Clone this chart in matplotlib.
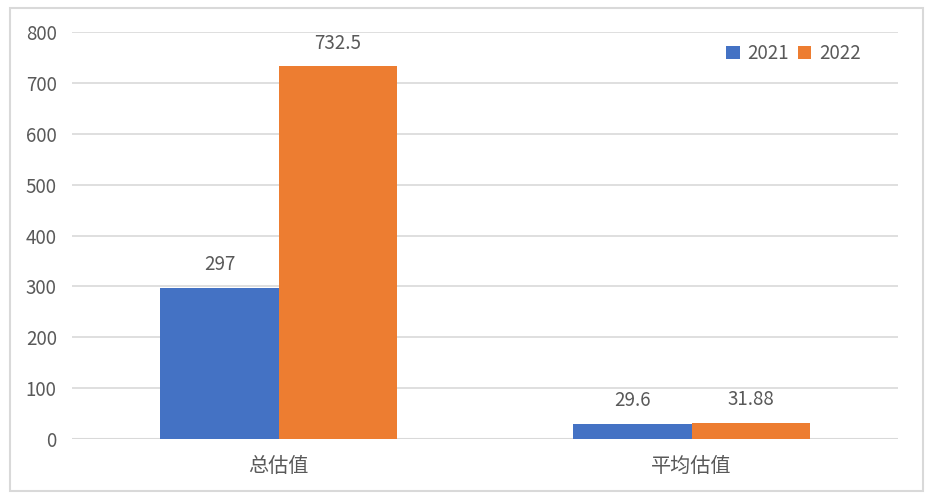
import numpy as np
import matplotlib.pyplot as plt
from matplotlib.patches import Rectangle

plt.rcParams['font.family'] = ['Noto Sans CJK SC', 'DejaVu Sans']

categories = ['总估值', '平均估值']
series_names = ['2021', '2022']
values_2021 = [297, 29.6]
values_2022 = [732.5, 31.88]
labels_2021 = ['297', '29.6']
labels_2022 = ['732.5', '31.88']
colors = ['#4472C4', '#ED7D31']
text_color = '#595959'

fig = plt.figure(figsize=(9.32, 5.03), dpi=100)
ax = fig.add_axes([72 / 932, 64 / 503, 826 / 932, 407 / 503])

x = np.arange(len(categories))
w = 0.286
bars1 = ax.bar(x - w / 2, values_2021, w, color=colors[0], label=series_names[0], zorder=3)
bars2 = ax.bar(x + w / 2, values_2022, w, color=colors[1], label=series_names[1], zorder=3)

for bars, labs in ((bars1, labels_2021), (bars2, labels_2022)):
    for b, lab in zip(bars, labs):
        ax.annotate(lab, (b.get_x() + b.get_width() / 2, b.get_height()),
                    xytext=(0, 9), textcoords='offset points', ha='center', va='bottom',
                    fontsize=13.5, color=text_color)

ax.set_xlim(-0.5, 1.5)
ax.set_ylim(0, 800)
ax.set_yticks(range(0, 801, 100))
ax.set_xticks(x)
ax.set_xticklabels(categories, fontsize=14.5, color=text_color)
ax.tick_params(axis='y', labelsize=13.5, labelcolor=text_color, length=0, pad=11)
ax.tick_params(axis='x', length=0, pad=12)
ax.grid(axis='y', color='#d9d9d9', linewidth=1.2, zorder=0)
for s in ax.spines.values():
    s.set_visible(False)
ax.axhline(0, color='#d9d9d9', linewidth=1.5, zorder=2)

leg = ax.legend(loc='upper right', bbox_to_anchor=(0.975, 1.015), ncol=2, frameon=False,
                fontsize=13.5, handlelength=0.7, handleheight=0.7, handletextpad=0.4,
                columnspacing=0.5)
for t in leg.get_texts():
    t.set_color(text_color)

fig.patches.append(Rectangle((10 / 932, 12 / 503), 913 / 932, 483 / 503,
                             transform=fig.transFigure, fill=False,
                             edgecolor='#d9d9d9', linewidth=1.5))

fig.savefig('out.png', dpi=100)
